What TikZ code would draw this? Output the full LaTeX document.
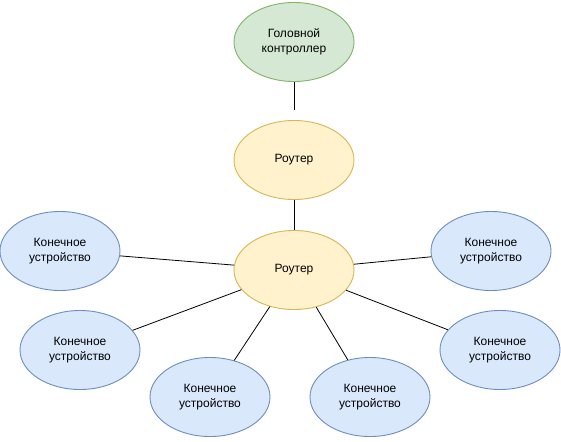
\documentclass[tikz,border=0pt]{standalone}
\usepackage{fontspec}
\setmainfont{Liberation Sans}
\usetikzlibrary{shapes.geometric}
\definecolor{gfill}{HTML}{D5E8D4}
\definecolor{gdraw}{HTML}{82B366}
\definecolor{yfill}{HTML}{FFF2CC}
\definecolor{ydraw}{HTML}{D6B656}
\definecolor{bfill}{HTML}{DAE8FC}
\definecolor{bdraw}{HTML}{6C8EBF}
\tikzset{
  base/.style={ellipse, minimum width=120pt, minimum height=79pt, inner sep=0pt,
    line width=0.9pt, align=center, font=\fontsize{12}{14.5}\selectfont},
  ctrl/.style={base, fill=gfill, draw=gdraw},
  router/.style={base, fill=yfill, draw=ydraw},
  dev/.style={base, fill=bfill, draw=bdraw},
  link/.style={line width=0.8pt, black}
}
\begin{document}
\begin{tikzpicture}[x=1pt,y=-1pt]
\useasboundingbox (0,0) rectangle (561,441);
\node[ctrl] (c) at (294,42) {Головной\\контроллер};
\node[router] (r1) at (294,160) {Роутер};
\node[router] (r2) at (294,270) {Роутер};
\coordinate (cend) at (294,110);
\node[dev] (d1) at (60,251) {Конечное\\устройство};
\node[dev] (d2) at (80,350) {Конечное\\устройство};
\node[dev] (d3) at (210,397) {Конечное\\устройство};
\node[dev] (d4) at (370,397) {Конечное\\устройство};
\node[dev] (d5) at (500,350) {Конечное\\устройство};
\node[dev] (d6) at (491,251) {Конечное\\устройство};
\draw[link] (c) -- (cend);
\draw[link] (r1) -- (r2);
\draw[link] (r2) -- (d1);
\draw[link] (r2) -- (d2);
\draw[link] (r2) -- (d3);
\draw[link] (r2) -- (d4);
\draw[link] (r2) -- (d5);
\draw[link] (r2) -- (d6);
\end{tikzpicture}
\end{document}
